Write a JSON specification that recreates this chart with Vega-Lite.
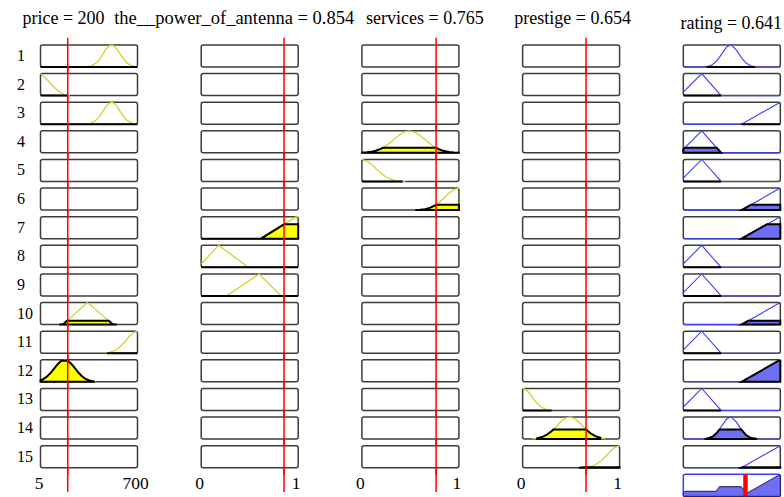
{
"$schema": "https://vega.github.io/schema/vega-lite/v6.json",
"background": "white",
"padding": {"left": 16.5, "top": 9, "right": 0, "bottom": 0},
"config": {"view": {"stroke": null}, "font": "Liberation Serif"},
"data": {"values": [
{"v":"price","r":1,"k":"frame","x0":5,"x1":700,"inp":200},{"v":"price","r":2,"k":"frame","x0":5,"x1":700,"inp":200},{"v":"price","r":3,"k":"frame","x0":5,"x1":700,"inp":200},{"v":"price","r":4,"k":"frame","x0":5,"x1":700,"inp":200},{"v":"price","r":5,"k":"frame","x0":5,"x1":700,"inp":200},{"v":"price","r":6,"k":"frame","x0":5,"x1":700,"inp":200},{"v":"price","r":7,"k":"frame","x0":5,"x1":700,"inp":200},{"v":"price","r":8,"k":"frame","x0":5,"x1":700,"inp":200},{"v":"price","r":9,"k":"frame","x0":5,"x1":700,"inp":200},{"v":"price","r":10,"k":"frame","x0":5,"x1":700,"inp":200},{"v":"price","r":11,"k":"frame","x0":5,"x1":700,"inp":200},{"v":"price","r":12,"k":"frame","x0":5,"x1":700,"inp":200},{"v":"price","r":13,"k":"frame","x0":5,"x1":700,"inp":200},{"v":"price","r":14,"k":"frame","x0":5,"x1":700,"inp":200},{"v":"price","r":15,"k":"frame","x0":5,"x1":700,"inp":200},
{"v":"price","r":1,"k":"mf","x":250,"y":0},{"v":"price","r":1,"k":"mf","x":300,"y":0.002},{"v":"price","r":1,"k":"mf","x":325,"y":0.007},{"v":"price","r":1,"k":"mf","x":350,"y":0.024},{"v":"price","r":1,"k":"mf","x":375,"y":0.068},{"v":"price","r":1,"k":"mf","x":400,"y":0.165},{"v":"price","r":1,"k":"mf","x":425,"y":0.333},{"v":"price","r":1,"k":"mf","x":450,"y":0.566},{"v":"price","r":1,"k":"mf","x":475,"y":0.81},{"v":"price","r":1,"k":"mf","x":500,"y":0.973},{"v":"price","r":1,"k":"mf","x":514,"y":1},{"v":"price","r":1,"k":"mf","x":525,"y":0.983},{"v":"price","r":1,"k":"mf","x":550,"y":0.835},{"v":"price","r":1,"k":"mf","x":575,"y":0.596},{"v":"price","r":1,"k":"mf","x":600,"y":0.358},{"v":"price","r":1,"k":"mf","x":625,"y":0.181},{"v":"price","r":1,"k":"mf","x":650,"y":0.077},{"v":"price","r":1,"k":"mf","x":675,"y":0.027},{"v":"price","r":1,"k":"mf","x":700,"y":0.008},
{"v":"price","r":1,"k":"fill","x":5,"y":0},{"v":"price","r":1,"k":"fill","x":700,"y":0},
{"v":"price","r":3,"k":"mf","x":250,"y":0},{"v":"price","r":3,"k":"mf","x":300,"y":0.002},{"v":"price","r":3,"k":"mf","x":325,"y":0.007},{"v":"price","r":3,"k":"mf","x":350,"y":0.024},{"v":"price","r":3,"k":"mf","x":375,"y":0.068},{"v":"price","r":3,"k":"mf","x":400,"y":0.165},{"v":"price","r":3,"k":"mf","x":425,"y":0.333},{"v":"price","r":3,"k":"mf","x":450,"y":0.566},{"v":"price","r":3,"k":"mf","x":475,"y":0.81},{"v":"price","r":3,"k":"mf","x":500,"y":0.973},{"v":"price","r":3,"k":"mf","x":514,"y":1},{"v":"price","r":3,"k":"mf","x":525,"y":0.983},{"v":"price","r":3,"k":"mf","x":550,"y":0.835},{"v":"price","r":3,"k":"mf","x":575,"y":0.596},{"v":"price","r":3,"k":"mf","x":600,"y":0.358},{"v":"price","r":3,"k":"mf","x":625,"y":0.181},{"v":"price","r":3,"k":"mf","x":650,"y":0.077},{"v":"price","r":3,"k":"mf","x":675,"y":0.027},{"v":"price","r":3,"k":"mf","x":700,"y":0.008},
{"v":"price","r":3,"k":"fill","x":5,"y":0},{"v":"price","r":3,"k":"fill","x":700,"y":0},
{"v":"price","r":2,"k":"mf","x":5,"y":1},{"v":"price","r":2,"k":"mf","x":30,"y":0.87},{"v":"price","r":2,"k":"mf","x":60,"y":0.67},{"v":"price","r":2,"k":"mf","x":90,"y":0.46},{"v":"price","r":2,"k":"mf","x":120,"y":0.28},{"v":"price","r":2,"k":"mf","x":150,"y":0.13},{"v":"price","r":2,"k":"mf","x":175,"y":0.04},{"v":"price","r":2,"k":"mf","x":200,"y":0.01},{"v":"price","r":2,"k":"mf","x":215,"y":0},
{"v":"price","r":2,"k":"fill","x":5,"y":0},{"v":"price","r":2,"k":"fill","x":200,"y":0},
{"v":"price","r":10,"k":"mf","x":165,"y":0},{"v":"price","r":10,"k":"mf","x":342,"y":1},{"v":"price","r":10,"k":"mf","x":525,"y":0},
{"v":"price","r":10,"k":"fill","x":140,"y":0},{"v":"price","r":10,"k":"fill","x":165,"y":0},{"v":"price","r":10,"k":"fill","x":195,"y":0.17},{"v":"price","r":10,"k":"fill","x":494,"y":0.17},{"v":"price","r":10,"k":"fill","x":525,"y":0},{"v":"price","r":10,"k":"fill","x":550,"y":0},
{"v":"price","r":11,"k":"mf","x":475,"y":0.019},{"v":"price","r":11,"k":"mf","x":500,"y":0.044},{"v":"price","r":11,"k":"mf","x":525,"y":0.091},{"v":"price","r":11,"k":"mf","x":550,"y":0.172},{"v":"price","r":11,"k":"mf","x":575,"y":0.295},{"v":"price","r":11,"k":"mf","x":600,"y":0.458},{"v":"price","r":11,"k":"mf","x":625,"y":0.645},{"v":"price","r":11,"k":"mf","x":650,"y":0.823},{"v":"price","r":11,"k":"mf","x":675,"y":0.952},{"v":"price","r":11,"k":"mf","x":700,"y":1},
{"v":"price","r":11,"k":"fill","x":480,"y":0},{"v":"price","r":11,"k":"fill","x":700,"y":0},
{"v":"price","r":12,"k":"mf","x":5,"y":0.07},{"v":"price","r":12,"k":"mf","x":25,"y":0.125},{"v":"price","r":12,"k":"mf","x":50,"y":0.233},{"v":"price","r":12,"k":"mf","x":75,"y":0.389},{"v":"price","r":12,"k":"mf","x":100,"y":0.582},{"v":"price","r":12,"k":"mf","x":125,"y":0.779},{"v":"price","r":12,"k":"mf","x":150,"y":0.933},{"v":"price","r":12,"k":"mf","x":178,"y":1},{"v":"price","r":12,"k":"mf","x":200,"y":0.958},{"v":"price","r":12,"k":"mf","x":225,"y":0.822},{"v":"price","r":12,"k":"mf","x":250,"y":0.631},{"v":"price","r":12,"k":"mf","x":275,"y":0.433},{"v":"price","r":12,"k":"mf","x":300,"y":0.266},{"v":"price","r":12,"k":"mf","x":325,"y":0.146},{"v":"price","r":12,"k":"mf","x":350,"y":0.072},{"v":"price","r":12,"k":"mf","x":375,"y":0.032},{"v":"price","r":12,"k":"mf","x":400,"y":0.013},
{"v":"price","r":12,"k":"fill","x":5,"y":0.07},{"v":"price","r":12,"k":"fill","x":25,"y":0.125},{"v":"price","r":12,"k":"fill","x":50,"y":0.233},{"v":"price","r":12,"k":"fill","x":75,"y":0.389},{"v":"price","r":12,"k":"fill","x":100,"y":0.582},{"v":"price","r":12,"k":"fill","x":125,"y":0.779},{"v":"price","r":12,"k":"fill","x":150,"y":0.933},{"v":"price","r":12,"k":"fill","x":156,"y":0.958},{"v":"price","r":12,"k":"fill","x":200,"y":0.958},{"v":"price","r":12,"k":"fill","x":225,"y":0.822},{"v":"price","r":12,"k":"fill","x":250,"y":0.631},{"v":"price","r":12,"k":"fill","x":275,"y":0.433},{"v":"price","r":12,"k":"fill","x":300,"y":0.266},{"v":"price","r":12,"k":"fill","x":325,"y":0.146},{"v":"price","r":12,"k":"fill","x":350,"y":0.072},{"v":"price","r":12,"k":"fill","x":375,"y":0.032},{"v":"price","r":12,"k":"fill","x":395,"y":0},

{"v":"antenna","r":1,"k":"frame","x0":0,"x1":1,"inp":0.854},{"v":"antenna","r":2,"k":"frame","x0":0,"x1":1,"inp":0.854},{"v":"antenna","r":3,"k":"frame","x0":0,"x1":1,"inp":0.854},{"v":"antenna","r":4,"k":"frame","x0":0,"x1":1,"inp":0.854},{"v":"antenna","r":5,"k":"frame","x0":0,"x1":1,"inp":0.854},{"v":"antenna","r":6,"k":"frame","x0":0,"x1":1,"inp":0.854},{"v":"antenna","r":7,"k":"frame","x0":0,"x1":1,"inp":0.854},{"v":"antenna","r":8,"k":"frame","x0":0,"x1":1,"inp":0.854},{"v":"antenna","r":9,"k":"frame","x0":0,"x1":1,"inp":0.854},{"v":"antenna","r":10,"k":"frame","x0":0,"x1":1,"inp":0.854},{"v":"antenna","r":11,"k":"frame","x0":0,"x1":1,"inp":0.854},{"v":"antenna","r":12,"k":"frame","x0":0,"x1":1,"inp":0.854},{"v":"antenna","r":13,"k":"frame","x0":0,"x1":1,"inp":0.854},{"v":"antenna","r":14,"k":"frame","x0":0,"x1":1,"inp":0.854},{"v":"antenna","r":15,"k":"frame","x0":0,"x1":1,"inp":0.854},
{"v":"antenna","r":7,"k":"mf","x":0.615,"y":0},{"v":"antenna","r":7,"k":"mf","x":0.98,"y":1},{"v":"antenna","r":7,"k":"mf","x":1,"y":1},
{"v":"antenna","r":7,"k":"fill","x":0,"y":0},{"v":"antenna","r":7,"k":"fill","x":0.615,"y":0},{"v":"antenna","r":7,"k":"fill","x":0.854,"y":0.655},{"v":"antenna","r":7,"k":"fill","x":1,"y":0.655},
{"v":"antenna","r":8,"k":"mf","x":0,"y":0.15},{"v":"antenna","r":8,"k":"mf","x":0.18,"y":1},{"v":"antenna","r":8,"k":"mf","x":0.486,"y":0},
{"v":"antenna","r":8,"k":"fill","x":0,"y":0},{"v":"antenna","r":8,"k":"fill","x":1,"y":0},
{"v":"antenna","r":9,"k":"mf","x":0.262,"y":0},{"v":"antenna","r":9,"k":"mf","x":0.597,"y":1},{"v":"antenna","r":9,"k":"mf","x":0.824,"y":0},
{"v":"antenna","r":9,"k":"fill","x":0,"y":0},{"v":"antenna","r":9,"k":"fill","x":1,"y":0},

{"v":"services","r":1,"k":"frame","x0":0,"x1":1,"inp":0.765},{"v":"services","r":2,"k":"frame","x0":0,"x1":1,"inp":0.765},{"v":"services","r":3,"k":"frame","x0":0,"x1":1,"inp":0.765},{"v":"services","r":4,"k":"frame","x0":0,"x1":1,"inp":0.765},{"v":"services","r":5,"k":"frame","x0":0,"x1":1,"inp":0.765},{"v":"services","r":6,"k":"frame","x0":0,"x1":1,"inp":0.765},{"v":"services","r":7,"k":"frame","x0":0,"x1":1,"inp":0.765},{"v":"services","r":8,"k":"frame","x0":0,"x1":1,"inp":0.765},{"v":"services","r":9,"k":"frame","x0":0,"x1":1,"inp":0.765},{"v":"services","r":10,"k":"frame","x0":0,"x1":1,"inp":0.765},{"v":"services","r":11,"k":"frame","x0":0,"x1":1,"inp":0.765},{"v":"services","r":12,"k":"frame","x0":0,"x1":1,"inp":0.765},{"v":"services","r":13,"k":"frame","x0":0,"x1":1,"inp":0.765},{"v":"services","r":14,"k":"frame","x0":0,"x1":1,"inp":0.765},{"v":"services","r":15,"k":"frame","x0":0,"x1":1,"inp":0.765},
{"v":"services","r":4,"k":"mf","x":0,"y":0.009},{"v":"services","r":4,"k":"mf","x":0.05,"y":0.023},{"v":"services","r":4,"k":"mf","x":0.1,"y":0.051},{"v":"services","r":4,"k":"mf","x":0.15,"y":0.105},{"v":"services","r":4,"k":"mf","x":0.2,"y":0.194},{"v":"services","r":4,"k":"mf","x":0.25,"y":0.325},{"v":"services","r":4,"k":"mf","x":0.3,"y":0.494},{"v":"services","r":4,"k":"mf","x":0.35,"y":0.682},{"v":"services","r":4,"k":"mf","x":0.4,"y":0.854},{"v":"services","r":4,"k":"mf","x":0.45,"y":0.969},{"v":"services","r":4,"k":"mf","x":0.49,"y":1},{"v":"services","r":4,"k":"mf","x":0.55,"y":0.932},{"v":"services","r":4,"k":"mf","x":0.6,"y":0.79},{"v":"services","r":4,"k":"mf","x":0.65,"y":0.607},{"v":"services","r":4,"k":"mf","x":0.7,"y":0.423},{"v":"services","r":4,"k":"mf","x":0.75,"y":0.267},{"v":"services","r":4,"k":"mf","x":0.8,"y":0.153},{"v":"services","r":4,"k":"mf","x":0.85,"y":0.08},{"v":"services","r":4,"k":"mf","x":0.9,"y":0.038},{"v":"services","r":4,"k":"mf","x":0.95,"y":0.016},{"v":"services","r":4,"k":"mf","x":1,"y":0.006},
{"v":"services","r":4,"k":"fill","x":0,"y":0.009},{"v":"services","r":4,"k":"fill","x":0.05,"y":0.023},{"v":"services","r":4,"k":"fill","x":0.1,"y":0.051},{"v":"services","r":4,"k":"fill","x":0.15,"y":0.105},{"v":"services","r":4,"k":"fill","x":0.2,"y":0.194},{"v":"services","r":4,"k":"fill","x":0.215,"y":0.228},{"v":"services","r":4,"k":"fill","x":0.765,"y":0.228},{"v":"services","r":4,"k":"fill","x":0.8,"y":0.153},{"v":"services","r":4,"k":"fill","x":0.85,"y":0.08},{"v":"services","r":4,"k":"fill","x":0.9,"y":0.038},{"v":"services","r":4,"k":"fill","x":0.95,"y":0.016},{"v":"services","r":4,"k":"fill","x":1,"y":0.006},
{"v":"services","r":5,"k":"mf","x":0,"y":1},{"v":"services","r":5,"k":"mf","x":0.05,"y":0.938},{"v":"services","r":5,"k":"mf","x":0.1,"y":0.775},{"v":"services","r":5,"k":"mf","x":0.15,"y":0.563},{"v":"services","r":5,"k":"mf","x":0.2,"y":0.36},{"v":"services","r":5,"k":"mf","x":0.25,"y":0.203},{"v":"services","r":5,"k":"mf","x":0.3,"y":0.101},{"v":"services","r":5,"k":"mf","x":0.35,"y":0.044},{"v":"services","r":5,"k":"mf","x":0.4,"y":0.017},{"v":"services","r":5,"k":"mf","x":0.45,"y":0.006},
{"v":"services","r":5,"k":"fill","x":0,"y":0},{"v":"services","r":5,"k":"fill","x":0.42,"y":0},
{"v":"services","r":6,"k":"mf","x":0.55,"y":0.006},{"v":"services","r":6,"k":"mf","x":0.6,"y":0.017},{"v":"services","r":6,"k":"mf","x":0.65,"y":0.044},{"v":"services","r":6,"k":"mf","x":0.7,"y":0.101},{"v":"services","r":6,"k":"mf","x":0.75,"y":0.203},{"v":"services","r":6,"k":"mf","x":0.8,"y":0.36},{"v":"services","r":6,"k":"mf","x":0.85,"y":0.563},{"v":"services","r":6,"k":"mf","x":0.9,"y":0.775},{"v":"services","r":6,"k":"mf","x":0.95,"y":0.938},{"v":"services","r":6,"k":"mf","x":1,"y":1},
{"v":"services","r":6,"k":"fill","x":0.55,"y":0},{"v":"services","r":6,"k":"fill","x":0.6,"y":0.017},{"v":"services","r":6,"k":"fill","x":0.65,"y":0.044},{"v":"services","r":6,"k":"fill","x":0.7,"y":0.101},{"v":"services","r":6,"k":"fill","x":0.75,"y":0.203},{"v":"services","r":6,"k":"fill","x":0.765,"y":0.244},{"v":"services","r":6,"k":"fill","x":1,"y":0.244},

{"v":"prestige","r":1,"k":"frame","x0":0,"x1":1,"inp":0.654},{"v":"prestige","r":2,"k":"frame","x0":0,"x1":1,"inp":0.654},{"v":"prestige","r":3,"k":"frame","x0":0,"x1":1,"inp":0.654},{"v":"prestige","r":4,"k":"frame","x0":0,"x1":1,"inp":0.654},{"v":"prestige","r":5,"k":"frame","x0":0,"x1":1,"inp":0.654},{"v":"prestige","r":6,"k":"frame","x0":0,"x1":1,"inp":0.654},{"v":"prestige","r":7,"k":"frame","x0":0,"x1":1,"inp":0.654},{"v":"prestige","r":8,"k":"frame","x0":0,"x1":1,"inp":0.654},{"v":"prestige","r":9,"k":"frame","x0":0,"x1":1,"inp":0.654},{"v":"prestige","r":10,"k":"frame","x0":0,"x1":1,"inp":0.654},{"v":"prestige","r":11,"k":"frame","x0":0,"x1":1,"inp":0.654},{"v":"prestige","r":12,"k":"frame","x0":0,"x1":1,"inp":0.654},{"v":"prestige","r":13,"k":"frame","x0":0,"x1":1,"inp":0.654},{"v":"prestige","r":14,"k":"frame","x0":0,"x1":1,"inp":0.654},{"v":"prestige","r":15,"k":"frame","x0":0,"x1":1,"inp":0.654},
{"v":"prestige","r":13,"k":"mf","x":0,"y":1},{"v":"prestige","r":13,"k":"mf","x":0.025,"y":0.969},{"v":"prestige","r":13,"k":"mf","x":0.05,"y":0.882},{"v":"prestige","r":13,"k":"mf","x":0.075,"y":0.755},{"v":"prestige","r":13,"k":"mf","x":0.1,"y":0.607},{"v":"prestige","r":13,"k":"mf","x":0.125,"y":0.458},{"v":"prestige","r":13,"k":"mf","x":0.15,"y":0.325},{"v":"prestige","r":13,"k":"mf","x":0.175,"y":0.216},{"v":"prestige","r":13,"k":"mf","x":0.2,"y":0.135},{"v":"prestige","r":13,"k":"mf","x":0.225,"y":0.08},{"v":"prestige","r":13,"k":"mf","x":0.25,"y":0.044},{"v":"prestige","r":13,"k":"mf","x":0.3,"y":0.011},
{"v":"prestige","r":13,"k":"fill","x":0,"y":0},{"v":"prestige","r":13,"k":"fill","x":0.3,"y":0},
{"v":"prestige","r":14,"k":"mf","x":0.1,"y":0.013},{"v":"prestige","r":14,"k":"mf","x":0.15,"y":0.037},{"v":"prestige","r":14,"k":"mf","x":0.2,"y":0.092},{"v":"prestige","r":14,"k":"mf","x":0.25,"y":0.197},{"v":"prestige","r":14,"k":"mf","x":0.3,"y":0.365},{"v":"prestige","r":14,"k":"mf","x":0.35,"y":0.583},{"v":"prestige","r":14,"k":"mf","x":0.4,"y":0.806},{"v":"prestige","r":14,"k":"mf","x":0.45,"y":0.963},{"v":"prestige","r":14,"k":"mf","x":0.486,"y":1},{"v":"prestige","r":14,"k":"mf","x":0.5,"y":0.994},{"v":"prestige","r":14,"k":"mf","x":0.55,"y":0.887},{"v":"prestige","r":14,"k":"mf","x":0.6,"y":0.685},{"v":"prestige","r":14,"k":"mf","x":0.65,"y":0.457},{"v":"prestige","r":14,"k":"mf","x":0.7,"y":0.263},{"v":"prestige","r":14,"k":"mf","x":0.75,"y":0.131},{"v":"prestige","r":14,"k":"mf","x":0.8,"y":0.056},{"v":"prestige","r":14,"k":"mf","x":0.85,"y":0.021},
{"v":"prestige","r":14,"k":"fill","x":0.15,"y":0.037},{"v":"prestige","r":14,"k":"fill","x":0.2,"y":0.092},{"v":"prestige","r":14,"k":"fill","x":0.25,"y":0.197},{"v":"prestige","r":14,"k":"fill","x":0.3,"y":0.365},{"v":"prestige","r":14,"k":"fill","x":0.318,"y":0.439},{"v":"prestige","r":14,"k":"fill","x":0.654,"y":0.439},{"v":"prestige","r":14,"k":"fill","x":0.7,"y":0.263},{"v":"prestige","r":14,"k":"fill","x":0.75,"y":0.131},{"v":"prestige","r":14,"k":"fill","x":0.8,"y":0.056},
{"v":"prestige","r":15,"k":"mf","x":0.6,"y":0.006},{"v":"prestige","r":15,"k":"mf","x":0.65,"y":0.02},{"v":"prestige","r":15,"k":"mf","x":0.7,"y":0.056},{"v":"prestige","r":15,"k":"mf","x":0.75,"y":0.135},{"v":"prestige","r":15,"k":"mf","x":0.8,"y":0.278},{"v":"prestige","r":15,"k":"mf","x":0.85,"y":0.487},{"v":"prestige","r":15,"k":"mf","x":0.9,"y":0.726},{"v":"prestige","r":15,"k":"mf","x":0.95,"y":0.923},{"v":"prestige","r":15,"k":"mf","x":1,"y":1},
{"v":"prestige","r":15,"k":"fill","x":0.58,"y":0},{"v":"prestige","r":15,"k":"fill","x":0.6,"y":0.006},{"v":"prestige","r":15,"k":"fill","x":0.654,"y":0.021},{"v":"prestige","r":15,"k":"fill","x":1,"y":0.021},

{"v":"rating","r":1,"k":"frame","x0":0,"x1":1},{"v":"rating","r":2,"k":"frame","x0":0,"x1":1},{"v":"rating","r":3,"k":"frame","x0":0,"x1":1},{"v":"rating","r":4,"k":"frame","x0":0,"x1":1},{"v":"rating","r":5,"k":"frame","x0":0,"x1":1},{"v":"rating","r":6,"k":"frame","x0":0,"x1":1},{"v":"rating","r":7,"k":"frame","x0":0,"x1":1},{"v":"rating","r":8,"k":"frame","x0":0,"x1":1},{"v":"rating","r":9,"k":"frame","x0":0,"x1":1},{"v":"rating","r":10,"k":"frame","x0":0,"x1":1},{"v":"rating","r":11,"k":"frame","x0":0,"x1":1},{"v":"rating","r":12,"k":"frame","x0":0,"x1":1},{"v":"rating","r":13,"k":"frame","x0":0,"x1":1},{"v":"rating","r":14,"k":"frame","x0":0,"x1":1},{"v":"rating","r":15,"k":"frame","x0":0,"x1":1},{"v":"rating","r":16,"k":"frame","x0":0,"x1":1,"cog":0.641},
{"v":"rating","r":1,"k":"mf","x":0,"y":0},{"v":"rating","r":1,"k":"mf","x":0.15,"y":0},{"v":"rating","r":1,"k":"mf","x":0.2,"y":0.005},{"v":"rating","r":1,"k":"mf","x":0.25,"y":0.026},{"v":"rating","r":1,"k":"mf","x":0.3,"y":0.104},{"v":"rating","r":1,"k":"mf","x":0.35,"y":0.3},{"v":"rating","r":1,"k":"mf","x":0.4,"y":0.62},{"v":"rating","r":1,"k":"mf","x":0.45,"y":0.922},{"v":"rating","r":1,"k":"mf","x":0.485,"y":1},{"v":"rating","r":1,"k":"mf","x":0.5,"y":0.985},{"v":"rating","r":1,"k":"mf","x":0.55,"y":0.757},{"v":"rating","r":1,"k":"mf","x":0.6,"y":0.417},{"v":"rating","r":1,"k":"mf","x":0.65,"y":0.166},{"v":"rating","r":1,"k":"mf","x":0.7,"y":0.047},{"v":"rating","r":1,"k":"mf","x":0.75,"y":0.01},{"v":"rating","r":1,"k":"mf","x":0.8,"y":0.001},{"v":"rating","r":1,"k":"mf","x":0.85,"y":0},{"v":"rating","r":1,"k":"mf","x":1,"y":0},
{"v":"rating","r":1,"k":"fill","x":0.24,"y":0},{"v":"rating","r":1,"k":"fill","x":0.74,"y":0},
{"v":"rating","r":2,"k":"mf","x":0,"y":0.156},{"v":"rating","r":2,"k":"mf","x":0.19,"y":1},{"v":"rating","r":2,"k":"mf","x":0.39,"y":0},{"v":"rating","r":2,"k":"mf","x":1,"y":0},
{"v":"rating","r":2,"k":"fill","x":0,"y":0},{"v":"rating","r":2,"k":"fill","x":0.39,"y":0},
{"v":"rating","r":3,"k":"mf","x":0,"y":0},{"v":"rating","r":3,"k":"mf","x":0.6,"y":0},{"v":"rating","r":3,"k":"mf","x":1,"y":1},
{"v":"rating","r":3,"k":"fill","x":0.6,"y":0},{"v":"rating","r":3,"k":"fill","x":1,"y":0},
{"v":"rating","r":4,"k":"mf","x":0,"y":0.156},{"v":"rating","r":4,"k":"mf","x":0.19,"y":1},{"v":"rating","r":4,"k":"mf","x":0.39,"y":0},{"v":"rating","r":4,"k":"mf","x":1,"y":0},
{"v":"rating","r":4,"k":"fill","x":0,"y":0.156},{"v":"rating","r":4,"k":"fill","x":0.0163,"y":0.228},{"v":"rating","r":4,"k":"fill","x":0.344,"y":0.228},{"v":"rating","r":4,"k":"fill","x":0.39,"y":0},
{"v":"rating","r":5,"k":"mf","x":0,"y":0.156},{"v":"rating","r":5,"k":"mf","x":0.19,"y":1},{"v":"rating","r":5,"k":"mf","x":0.39,"y":0},{"v":"rating","r":5,"k":"mf","x":1,"y":0},
{"v":"rating","r":5,"k":"fill","x":0,"y":0},{"v":"rating","r":5,"k":"fill","x":0.39,"y":0},
{"v":"rating","r":6,"k":"mf","x":0,"y":0},{"v":"rating","r":6,"k":"mf","x":0.6,"y":0},{"v":"rating","r":6,"k":"mf","x":1,"y":1},
{"v":"rating","r":6,"k":"fill","x":0.6,"y":0},{"v":"rating","r":6,"k":"fill","x":0.698,"y":0.244},{"v":"rating","r":6,"k":"fill","x":1,"y":0.244},
{"v":"rating","r":7,"k":"mf","x":0,"y":0},{"v":"rating","r":7,"k":"mf","x":0.6,"y":0},{"v":"rating","r":7,"k":"mf","x":1,"y":1},
{"v":"rating","r":7,"k":"fill","x":0.6,"y":0},{"v":"rating","r":7,"k":"fill","x":0.862,"y":0.655},{"v":"rating","r":7,"k":"fill","x":1,"y":0.655},
{"v":"rating","r":8,"k":"mf","x":0,"y":0.156},{"v":"rating","r":8,"k":"mf","x":0.19,"y":1},{"v":"rating","r":8,"k":"mf","x":0.39,"y":0},{"v":"rating","r":8,"k":"mf","x":1,"y":0},
{"v":"rating","r":8,"k":"fill","x":0,"y":0},{"v":"rating","r":8,"k":"fill","x":0.39,"y":0},
{"v":"rating","r":9,"k":"mf","x":0,"y":0.156},{"v":"rating","r":9,"k":"mf","x":0.19,"y":1},{"v":"rating","r":9,"k":"mf","x":0.39,"y":0},{"v":"rating","r":9,"k":"mf","x":1,"y":0},
{"v":"rating","r":9,"k":"fill","x":0,"y":0},{"v":"rating","r":9,"k":"fill","x":0.39,"y":0},
{"v":"rating","r":10,"k":"mf","x":0,"y":0},{"v":"rating","r":10,"k":"mf","x":0.6,"y":0},{"v":"rating","r":10,"k":"mf","x":1,"y":1},
{"v":"rating","r":10,"k":"fill","x":0.6,"y":0},{"v":"rating","r":10,"k":"fill","x":0.668,"y":0.17},{"v":"rating","r":10,"k":"fill","x":1,"y":0.17},
{"v":"rating","r":11,"k":"mf","x":0,"y":0.156},{"v":"rating","r":11,"k":"mf","x":0.19,"y":1},{"v":"rating","r":11,"k":"mf","x":0.39,"y":0},{"v":"rating","r":11,"k":"mf","x":1,"y":0},
{"v":"rating","r":11,"k":"fill","x":0,"y":0},{"v":"rating","r":11,"k":"fill","x":0.39,"y":0},
{"v":"rating","r":12,"k":"mf","x":0,"y":0},{"v":"rating","r":12,"k":"mf","x":0.6,"y":0},{"v":"rating","r":12,"k":"mf","x":1,"y":1},
{"v":"rating","r":12,"k":"fill","x":0.6,"y":0},{"v":"rating","r":12,"k":"fill","x":0.983,"y":0.958},{"v":"rating","r":12,"k":"fill","x":1,"y":0.958},
{"v":"rating","r":13,"k":"mf","x":0,"y":0.156},{"v":"rating","r":13,"k":"mf","x":0.19,"y":1},{"v":"rating","r":13,"k":"mf","x":0.39,"y":0},{"v":"rating","r":13,"k":"mf","x":1,"y":0},
{"v":"rating","r":13,"k":"fill","x":0,"y":0},{"v":"rating","r":13,"k":"fill","x":0.39,"y":0},
{"v":"rating","r":14,"k":"mf","x":0,"y":0},{"v":"rating","r":14,"k":"mf","x":0.15,"y":0},{"v":"rating","r":14,"k":"mf","x":0.2,"y":0.005},{"v":"rating","r":14,"k":"mf","x":0.25,"y":0.026},{"v":"rating","r":14,"k":"mf","x":0.3,"y":0.104},{"v":"rating","r":14,"k":"mf","x":0.35,"y":0.3},{"v":"rating","r":14,"k":"mf","x":0.4,"y":0.62},{"v":"rating","r":14,"k":"mf","x":0.45,"y":0.922},{"v":"rating","r":14,"k":"mf","x":0.485,"y":1},{"v":"rating","r":14,"k":"mf","x":0.5,"y":0.985},{"v":"rating","r":14,"k":"mf","x":0.55,"y":0.757},{"v":"rating","r":14,"k":"mf","x":0.6,"y":0.417},{"v":"rating","r":14,"k":"mf","x":0.65,"y":0.166},{"v":"rating","r":14,"k":"mf","x":0.7,"y":0.047},{"v":"rating","r":14,"k":"mf","x":0.75,"y":0.01},{"v":"rating","r":14,"k":"mf","x":0.8,"y":0.001},{"v":"rating","r":14,"k":"mf","x":0.85,"y":0},{"v":"rating","r":14,"k":"mf","x":1,"y":0},
{"v":"rating","r":14,"k":"fill","x":0.22,"y":0},{"v":"rating","r":14,"k":"fill","x":0.25,"y":0.026},{"v":"rating","r":14,"k":"fill","x":0.3,"y":0.104},{"v":"rating","r":14,"k":"fill","x":0.35,"y":0.3},{"v":"rating","r":14,"k":"fill","x":0.373,"y":0.439},{"v":"rating","r":14,"k":"fill","x":0.597,"y":0.439},{"v":"rating","r":14,"k":"fill","x":0.65,"y":0.166},{"v":"rating","r":14,"k":"fill","x":0.7,"y":0.047},{"v":"rating","r":14,"k":"fill","x":0.75,"y":0.01},{"v":"rating","r":14,"k":"fill","x":0.76,"y":0},
{"v":"rating","r":15,"k":"mf","x":0,"y":0},{"v":"rating","r":15,"k":"mf","x":0.6,"y":0},{"v":"rating","r":15,"k":"mf","x":1,"y":1},
{"v":"rating","r":15,"k":"fill","x":0.6,"y":0},{"v":"rating","r":15,"k":"fill","x":0.608,"y":0.021},{"v":"rating","r":15,"k":"fill","x":1,"y":0.021},
{"v":"rating","r":16,"k":"agg","x":0,"y":0.156},{"v":"rating","r":16,"k":"agg","x":0.0163,"y":0.228},{"v":"rating","r":16,"k":"agg","x":0.335,"y":0.228},{"v":"rating","r":16,"k":"agg","x":0.35,"y":0.3},{"v":"rating","r":16,"k":"agg","x":0.373,"y":0.439},{"v":"rating","r":16,"k":"agg","x":0.597,"y":0.439},{"v":"rating","r":16,"k":"agg","x":0.625,"y":0.274},{"v":"rating","r":16,"k":"agg","x":0.65,"y":0.166},{"v":"rating","r":16,"k":"agg","x":0.657,"y":0.142},{"v":"rating","r":16,"k":"agg","x":0.983,"y":0.958},{"v":"rating","r":16,"k":"agg","x":1,"y":0.958}
]},
"facet": {
  "row": {"field": "r", "type": "ordinal", "title": null, "header": {"labels": false}},
  "column": {"field": "v", "type": "nominal", "title": null, "sort": ["price", "antenna", "services", "prestige", "rating"], "header": {"labels": false}}
},
"spacing": {"row": 6.62, "column": 63.7},
"bounds": "flush",
"resolve": {"scale": {"x": "independent"}},
"spec": {
  "width": 97, "height": 22,
  "layer": [
   {"transform": [{"filter": "datum.k=='frame'"}], "mark": {"type": "rect", "fill": "white", "strokeWidth": 1.5, "cornerRadius": 2},
    "encoding": {"x": {"field": "x0", "type": "quantitative", "scale": {"nice": false, "zero": false}, "axis": null}, "x2": {"field": "x1"},
                 "y": {"datum": 0, "type": "quantitative", "scale": {"domain": [0, 1], "nice": false, "zero": false}, "axis": null}, "y2": {"datum": 1},
                 "stroke": {"condition": {"test": "datum.r==16", "value": "#3b3bff"}, "value": "#3c3c3c"}}},
   {"transform": [{"filter": "datum.k=='mf' && datum.v!='rating'"}], "mark": {"type": "line", "color": "#d0d020", "strokeWidth": 1.2}, "encoding": {"x": {"field": "x", "type": "quantitative"}, "y": {"field": "y", "type": "quantitative"}}},
   {"transform": [{"filter": "datum.k=='mf' && datum.v=='rating'"}], "mark": {"type": "line", "color": "#3c3cff", "strokeWidth": 1.1}, "encoding": {"x": {"field": "x", "type": "quantitative"}, "y": {"field": "y", "type": "quantitative"}}},
   {"transform": [{"filter": "datum.k=='fill' && datum.v!='rating'"}], "mark": {"type": "area", "fill": "#ffff00", "fillOpacity": 1, "stroke": "#000000", "strokeWidth": 2}, "encoding": {"x": {"field": "x", "type": "quantitative"}, "y": {"field": "y", "type": "quantitative", "stack": null}}},
   {"transform": [{"filter": "datum.k=='fill' && datum.v=='rating'"}], "mark": {"type": "area", "fill": "#6e6ef5", "fillOpacity": 1, "stroke": "#000000", "strokeWidth": 2}, "encoding": {"x": {"field": "x", "type": "quantitative"}, "y": {"field": "y", "type": "quantitative", "stack": null}}},
   {"transform": [{"filter": "datum.k=='agg'"}], "mark": {"type": "area", "fill": "#6e6ef5", "fillOpacity": 1, "stroke": "#1a1a60", "strokeWidth": 1}, "encoding": {"x": {"field": "x", "type": "quantitative"}, "y": {"field": "y", "type": "quantitative", "stack": null}}},
   {"transform": [{"filter": "datum.k=='frame' && isValid(datum.inp)"}], "mark": {"type": "rule", "color": "#ff0000", "strokeWidth": 1.5}, "encoding": {"x": {"field": "inp", "type": "quantitative"}, "y": {"datum": -0.33, "type": "quantitative"}, "y2": {"datum": 1.33}}},
   {"transform": [{"filter": "datum.k=='frame' && isValid(datum.inp) && datum.r==15"}], "mark": {"type": "rule", "color": "#ff0000", "strokeWidth": 1.5}, "encoding": {"x": {"field": "inp", "type": "quantitative"}, "y": {"datum": -1.1, "type": "quantitative"}, "y2": {"datum": 0}}},
   {"transform": [{"filter": "datum.k=='frame' && isValid(datum.cog)"}], "mark": {"type": "rule", "color": "#ff0000", "strokeWidth": 4.5}, "encoding": {"x": {"field": "cog", "type": "quantitative"}, "y": {"datum": 0, "type": "quantitative"}, "y2": {"datum": 1}}},
   {"transform": [{"filter": "datum.k=='frame' && datum.v=='price'"}], "mark": {"type": "text", "font": "Liberation Serif", "fontSize": 16, "color": "#000000", "align": "left", "baseline": "middle", "dx": -23.5}, "encoding": {"x": {"field": "x0", "type": "quantitative"}, "y": {"datum": 0.5, "type": "quantitative"}, "text": {"field": "r", "type": "quantitative", "format": "d"}}},
   {"transform": [{"filter": "datum.k=='frame' && isValid(datum.inp) && datum.r==15"}], "mark": {"type": "text", "font": "Liberation Serif", "fontSize": 17.5, "color": "#000000", "align": "center", "baseline": "middle", "dx": -1.5}, "encoding": {"x": {"field": "x0", "type": "quantitative"}, "y": {"datum": -0.72, "type": "quantitative"}, "text": {"field": "x0", "type": "quantitative", "format": "d"}}},
   {"transform": [{"filter": "datum.k=='frame' && isValid(datum.inp) && datum.r==15"}], "mark": {"type": "text", "font": "Liberation Serif", "fontSize": 17.5, "color": "#000000", "align": "center", "baseline": "middle", "dx": -2}, "encoding": {"x": {"field": "x1", "type": "quantitative"}, "y": {"datum": -0.72, "type": "quantitative"}, "text": {"field": "x1", "type": "quantitative", "format": "d"}}},
   {"transform": [{"filter": "datum.k=='frame' && datum.r==1 && datum.v=='price'"}], "mark": {"type": "text", "font": "Liberation Serif", "fontSize": 18, "color": "#000000", "align": "center", "baseline": "alphabetic", "dx": 23, "text": "price = 200"}, "encoding": {"x": {"field": "x0", "type": "quantitative"}, "y": {"datum": 1.94, "type": "quantitative"}}},
   {"transform": [{"filter": "datum.k=='frame' && datum.r==1 && datum.v=='antenna'"}], "mark": {"type": "text", "font": "Liberation Serif", "fontSize": 18.5, "color": "#000000", "align": "center", "baseline": "alphabetic", "dx": 33, "text": "the__power_of_antenna = 0.854"}, "encoding": {"x": {"field": "x0", "type": "quantitative"}, "y": {"datum": 1.94, "type": "quantitative"}}},
   {"transform": [{"filter": "datum.k=='frame' && datum.r==1 && datum.v=='services'"}], "mark": {"type": "text", "font": "Liberation Serif", "fontSize": 18, "color": "#000000", "align": "center", "baseline": "alphabetic", "dx": 63, "text": "services = 0.765"}, "encoding": {"x": {"field": "x0", "type": "quantitative"}, "y": {"datum": 1.94, "type": "quantitative"}}},
   {"transform": [{"filter": "datum.k=='frame' && datum.r==1 && datum.v=='prestige'"}], "mark": {"type": "text", "font": "Liberation Serif", "fontSize": 18, "color": "#000000", "align": "center", "baseline": "alphabetic", "dx": 50, "text": "prestige = 0.654"}, "encoding": {"x": {"field": "x0", "type": "quantitative"}, "y": {"datum": 1.94, "type": "quantitative"}}},
   {"transform": [{"filter": "datum.k=='frame' && datum.r==1 && datum.v=='rating'"}], "mark": {"type": "text", "font": "Liberation Serif", "fontSize": 18, "color": "#000000", "align": "center", "baseline": "alphabetic", "dx": 48, "text": "rating = 0.641"}, "encoding": {"x": {"field": "x0", "type": "quantitative"}, "y": {"datum": 1.73, "type": "quantitative"}}}
  ]
}
}
